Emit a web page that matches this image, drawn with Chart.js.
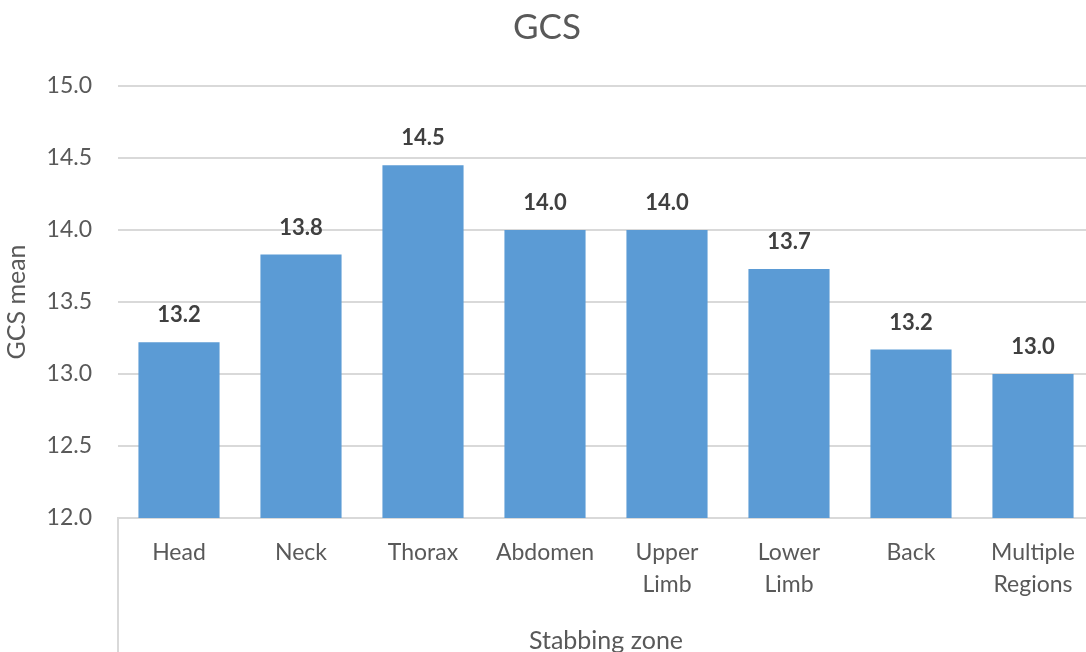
<!DOCTYPE html>
<html>
<head>
<meta charset="utf-8">
<script src="https://cdn.jsdelivr.net/npm/chart.js@4.4.1/dist/chart.umd.min.js"></script>
<style>
html,body{margin:0;padding:0;background:#fff;overflow:hidden;}
#wrap{width:1086px;height:652px;position:relative;overflow:hidden;}
#c{position:absolute;left:0;top:0;}
</style>
</head>
<body>
<div id="wrap"><canvas id="c" width="1094" height="652"></canvas></div>
<script>
const categories = ['Head', 'Neck', 'Thorax', 'Abdomen', ['Upper', 'Limb'], ['Lower', 'Limb'], 'Back', ['Multiple', 'Regions']];
const gcsMean = [13.22, 13.83, 14.45, 14.0, 14.0, 13.73, 13.17, 13.0];
const yTicks = [12.0, 12.5, 13.0, 13.5, 14.0, 14.5, 15.0];

const FONT = 'Lato, "Noto Sans", sans-serif';

function fmt1(v) { return (Math.round(v * 10 + 1e-6) / 10).toFixed(1); }

const valueLabels = {
  id: 'valueLabels',
  afterDatasetsDraw(chart) {
    const ctx = chart.ctx;
    const meta = chart.getDatasetMeta(0);
    ctx.save();
    ctx.font = 'bold 22px ' + FONT;
    ctx.fillStyle = '#404040';
    ctx.textAlign = 'center';
    ctx.textBaseline = 'bottom';
    meta.data.forEach((bar, i) => {
      ctx.fillText(fmt1(gcsMean[i]), bar.x, bar.y - 16);
    });
    ctx.restore();
  }
};

const leftLine = {
  id: 'leftLine',
  afterDraw(chart) {
    const ctx = chart.ctx;
    const x = chart.scales.x.left;
    ctx.save();
    ctx.strokeStyle = '#d9d9d9';
    ctx.lineWidth = 2;
    ctx.beginPath();
    ctx.moveTo(x, chart.chartArea.bottom);
    ctx.lineTo(x, chart.height);
    ctx.stroke();
    ctx.restore();
  }
};

new Chart(document.getElementById('c'), {
  type: 'bar',
  data: {
    labels: categories,
    datasets: [{
      data: gcsMean,
      backgroundColor: '#5B9BD5',
      borderWidth: 0,
      categoryPercentage: 1.0,
      barPercentage: 0.665
    }]
  },
  options: {
    responsive: false,
    animation: false,
    devicePixelRatio: 1,
    layout: { padding: { top: 0, right: 0, bottom: 0, left: 0 } },
    plugins: {
      legend: { display: false },
      tooltip: { enabled: false },
      title: {
        display: true,
        text: 'GCS',
        color: '#595959',
        font: { family: FONT, size: 35, weight: 'normal' },
        padding: { top: 7, bottom: 37 }
      }
    },
    scales: {
      x: {
        afterFit(scale) { scale.height = 134; },
        grid: { display: false },
        border: { display: true, color: '#d9d9d9', width: 2 },
        ticks: {
          color: '#595959',
          font: { family: FONT, size: 23, lineHeight: 1.42 },
          padding: 10,
          maxRotation: 0,
          autoSkip: false
        },
        title: {
          display: true,
          text: 'Stabbing zone',
          color: '#595959',
          font: { family: FONT, size: 25 },
          padding: { top: 0, bottom: -4 }
        }
      },
      y: {
        min: 12,
        max: 15,
        afterFit(scale) { scale.width = 118; },
        afterBuildTicks(scale) { scale.ticks = yTicks.map(v => ({ value: v })); },
        grid: { color: '#d9d9d9', lineWidth: 2, drawTicks: false },
        border: { display: false },
        ticks: {
          color: '#595959',
          font: { family: FONT, size: 23 },
          padding: 26,
          callback: v => Number(v).toFixed(1)
        },
        title: {
          display: true,
          text: 'GCS mean',
          color: '#595959',
          font: { family: FONT, size: 25 },
          padding: { top: 2, bottom: 0 }
        }
      }
    }
  },
  plugins: [valueLabels, leftLine]
});
</script>
</body>
</html>
